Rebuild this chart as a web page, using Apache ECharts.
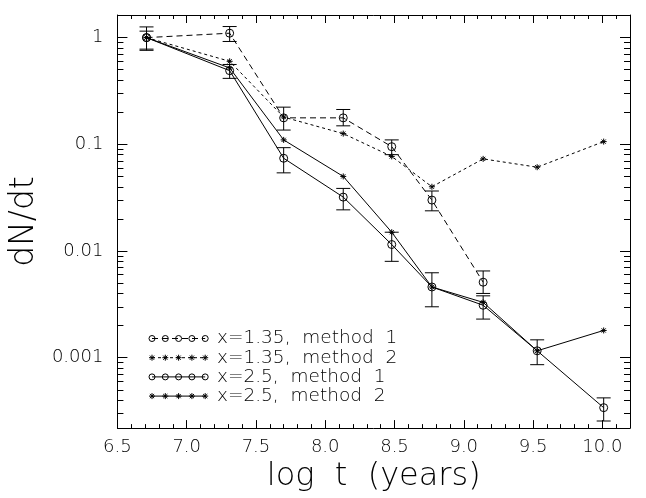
<!DOCTYPE html>
<html>
<head>
<meta charset="utf-8">
<script src="https://cdn.jsdelivr.net/npm/echarts@6/dist/echarts.min.js"></script>
<style>
html,body{margin:0;padding:0;background:#fff;}
#chart{width:646px;height:498px;}
</style>
</head>
<body>
<div id="chart"></div>
<script>
// ---- data ----
const logT = [6.71, 7.31, 7.70, 8.13, 8.48, 8.77, 9.14, 9.53, 10.01];

const x135m1   = [1.0, 1.10, 0.177, 0.177, 0.095, 0.030, 0.0051];
const x135m1Lo = [0.76, 0.92, 0.136, 0.149, 0.080, 0.0238, 0.0040];
const x135m1Hi = [1.26, 1.27, 0.223, 0.212, 0.110, 0.0365, 0.0065];

const x135m2   = [1.0, 0.60, 0.18, 0.126, 0.077, 0.040, 0.073, 0.061, 0.106];

const x25m1    = [1.0, 0.49, 0.074, 0.032, 0.0115, 0.0046, 0.0031, 0.00116, 0.00034];
const x25m1Lo  = [0.78, 0.415, 0.054, 0.0243, 0.0080, 0.0030, 0.0023, 0.00086, 0.000255];
const x25m1Hi  = [1.15, 0.56, 0.093, 0.0386, 0.0150, 0.00625, 0.0038, 0.00147, 0.00042];

const x25m2    = [1.0, 0.52, 0.11, 0.050, 0.015, 0.0046, 0.0033, 0.00116, 0.0018];

const legendNames = ['x=1.35,  method  1', 'x=1.35,  method  2', 'x=2.5,  method  1', 'x=2.5,  method  2'];

const xTickLabels = [6.5, 7.0, 7.5, 8.0, 8.5, 9.0, 9.5, 10.0];
const yTickLabels = [0.001, 0.01, 0.1, 1];
const yLabelText = ['0.001', '0.01', '0.1', '1'];

// ---- helpers ----
const L = Math.log10;
const xMin = 6.5, xMax = 10.2;
const yMin = -3.66, yMax = 0.212;
const xMinor = [];
for (let v = 66; v <= 101; v++) { if (v % 5 !== 0) xMinor.push(v / 10); }
const yMajor = yTickLabels.map(L);
const yMinor = [];
for (let d = -4; d <= 0; d++) {
  for (let k = 2; k <= 9; k++) {
    const lv = L(k * Math.pow(10, d));
    if (lv > yMin && lv < yMax) yMinor.push(lv);
  }
}
const pts = (ys) => ys.map((y, i) => [logT[i], L(y)]);
const errs = (lo, hi) => lo.map((l, i) => [logT[i], L(l), L(hi[i])]);

const FONT = 'DejaVu Sans';
const TXT = '#000';
const WEIGHT = 200;
const starPath = 'path://M0,5L10,5M5,0L5,10M1.5,1.5L8.5,8.5M1.5,8.5L8.5,1.5';

function xAxisDef(pos, major, withLine, withLabel) {
  return {
    type: 'value', position: pos, min: xMin, max: xMax,
    axisLine: { show: withLine, onZero: false, lineStyle: { color: '#000', width: 1 } },
    axisTick: { show: true, inside: true, length: major ? 8 : 4, customValues: major ? xTickLabels : xMinor,
                lineStyle: { color: '#000', width: 1 } },
    axisLabel: withLabel ? { show: true, customValues: xTickLabels, formatter: v => Number(v).toFixed(1),
                fontSize: 18, color: TXT, fontFamily: FONT, fontWeight: WEIGHT, margin: 10 } : { show: false },
    splitLine: { show: false },
    name: withLabel ? 'log  t  (years)' : '',
    nameLocation: 'middle', nameGap: 27,
    nameTextStyle: { fontSize: 32, color: TXT, fontFamily: FONT, fontWeight: WEIGHT }
  };
}
function yAxisDef(pos, major, withLine, withLabel) {
  return {
    type: 'value', position: pos, min: yMin, max: yMax,
    axisLine: { show: withLine, onZero: false, lineStyle: { color: '#000', width: 1 } },
    axisTick: { show: true, inside: true, length: major ? 10 : 6, customValues: major ? yMajor : yMinor,
                lineStyle: { color: '#000', width: 1 } },
    axisLabel: withLabel ? { show: true, customValues: yMajor,
                formatter: v => { const i = yMajor.findIndex(m => Math.abs(m - v) < 1e-6); return i >= 0 ? yLabelText[i] : ''; },
                fontSize: 18, color: TXT, fontFamily: FONT, fontWeight: WEIGHT, margin: 14 } : { show: false },
    splitLine: { show: false },
    name: withLabel ? 'dN/dt' : '',
    nameLocation: 'middle', nameGap: 62, nameRotate: 90,
    nameTextStyle: { fontSize: 33, color: TXT, fontFamily: FONT, fontWeight: WEIGHT }
  };
}

function errorSeries(data) {
  return {
    type: 'custom', xAxisIndex: 0, yAxisIndex: 0, data: data, z: 3,
    renderItem: function (params, api) {
      const x = api.value(0);
      const p1 = api.coord([x, api.value(1)]);
      const p2 = api.coord([x, api.value(2)]);
      const w = 7;
      const st = { stroke: '#000', lineWidth: 1 };
      return { type: 'group', children: [
        { type: 'line', shape: { x1: p1[0], y1: p1[1], x2: p2[0], y2: p2[1] }, style: st },
        { type: 'line', shape: { x1: p1[0] - w, y1: p1[1], x2: p1[0] + w, y2: p1[1] }, style: st },
        { type: 'line', shape: { x1: p2[0] - w, y1: p2[1], x2: p2[0] + w, y2: p2[1] }, style: st }
      ] };
    }
  };
}

function lineSeries(name, data, dash, symbol) {
  const isStar = symbol === 'star';
  return {
    name: name, type: 'line', xAxisIndex: 0, yAxisIndex: 0, data: data,
    showAllSymbol: true,
    symbol: isStar ? starPath : 'circle',
    symbolSize: isStar ? 6 : 8,
    itemStyle: { color: 'rgba(0,0,0,0)', borderColor: '#000', borderWidth: 1 },
    lineStyle: { color: '#000', width: 1, type: dash },
    z: 4
  };
}

// ---- legend drawn as graphics ----
const legendRows = [
  { dash: [6, 4], sym: 'circle' },
  { dash: [3, 3], sym: 'star' },
  { dash: null, sym: 'circle' },
  { dash: null, sym: 'star' }
];
const legendGraphics = [];
const lst = { stroke: '#000', lineWidth: 1 };
legendRows.forEach((r, i) => {
  const y = 338.5 + i * 19.2;
  const x0 = 152, step = 13.3;
  legendGraphics.push({
    type: 'line', shape: { x1: x0, y1: y, x2: x0 + 4 * step, y2: y },
    style: { stroke: '#000', lineWidth: 1, lineDash: r.dash }
  });
  for (let k = 0; k < 5; k++) {
    const cx = x0 + k * step;
    if (r.sym === 'circle') {
      legendGraphics.push({ type: 'circle', shape: { cx: cx, cy: y, r: 3 },
        style: { stroke: '#000', lineWidth: 1, fill: 'rgba(0,0,0,0)' } });
    } else {
      const a = 3, b = 2.1;
      legendGraphics.push({ type: 'line', shape: { x1: cx - a, y1: y, x2: cx + a, y2: y }, style: lst });
      legendGraphics.push({ type: 'line', shape: { x1: cx, y1: y - a, x2: cx, y2: y + a }, style: lst });
      legendGraphics.push({ type: 'line', shape: { x1: cx - b, y1: y - b, x2: cx + b, y2: y + b }, style: lst });
      legendGraphics.push({ type: 'line', shape: { x1: cx - b, y1: y + b, x2: cx + b, y2: y - b }, style: lst });
    }
  }
  legendGraphics.push({
    type: 'text', x: 217, y: y,
    style: { text: legendNames[i], fontSize: 18.5, fontFamily: FONT, fontWeight: WEIGHT, fill: TXT, verticalAlign: 'middle', align: 'left' }
  });
});

const chart = echarts.init(document.getElementById('chart'), null, { renderer: 'canvas' });
chart.setOption({
  animation: false,
  backgroundColor: '#fff',
  grid: { left: 114, right: 16, top: 15, bottom: 62, containLabel: false },
  xAxis: [
    xAxisDef('bottom', true, true, true),
    xAxisDef('bottom', false, false, false),
    xAxisDef('top', true, true, false),
    xAxisDef('top', false, false, false)
  ],
  yAxis: [
    yAxisDef('left', true, true, true),
    yAxisDef('left', false, false, false),
    yAxisDef('right', true, true, false),
    yAxisDef('right', false, false, false)
  ],
  series: [
    lineSeries(legendNames[0], pts(x135m1), [6, 4], 'circle'),
    lineSeries(legendNames[1], pts(x135m2), [3, 3], 'star'),
    lineSeries(legendNames[2], pts(x25m1), 'solid', 'circle'),
    lineSeries(legendNames[3], pts(x25m2), 'solid', 'star'),
    errorSeries(errs(x135m1Lo, x135m1Hi)),
    errorSeries(errs(x25m1Lo, x25m1Hi))
  ],
  graphic: legendGraphics
});
</script>
</body>
</html>
